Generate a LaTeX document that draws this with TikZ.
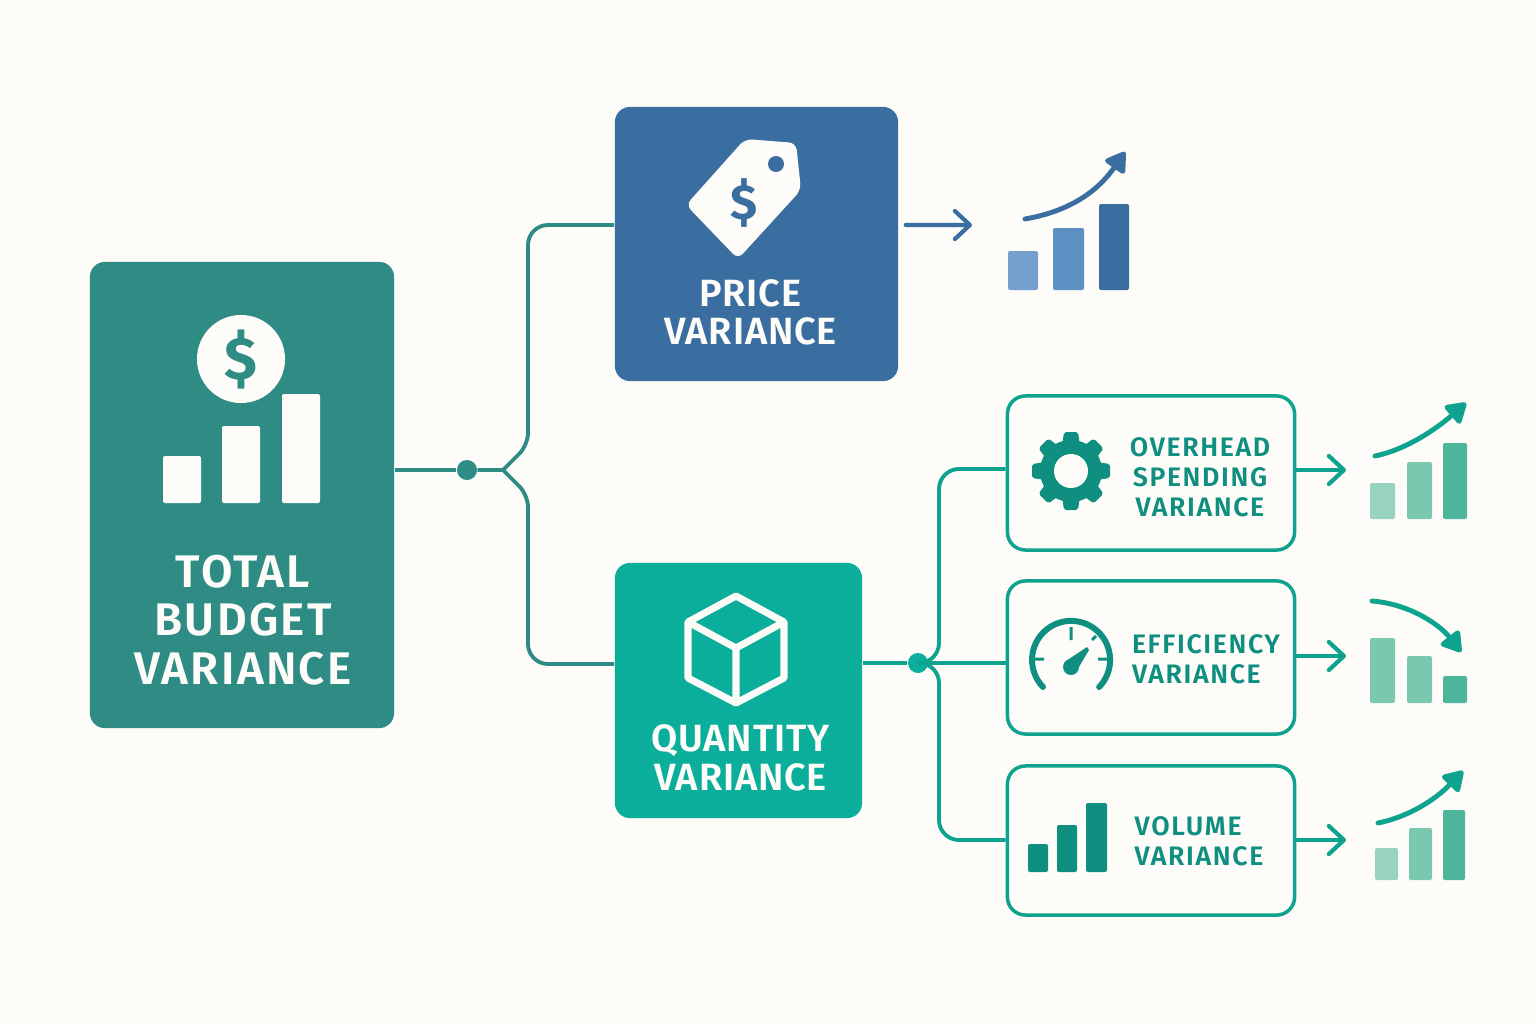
\documentclass[tikz,border=0pt]{standalone}
\usepackage{fontspec}
\setmainfont{Fira Sans}
\newfontfamily\bigface{Fira Sans SemiBold}[LetterSpace=5]
\newfontfamily\midface{Fira Sans SemiBold}[LetterSpace=2]
\newfontfamily\subface{Fira Sans SemiBold}[LetterSpace=6]
\usepackage{tikz}
\usetikzlibrary{arrows.meta, positioning}
\definecolor{pagebg}{HTML}{FDFCF8}
\definecolor{totalteal}{HTML}{2F8C85}
\definecolor{priceblue}{HTML}{3A6EA0}
\definecolor{qtygreen}{HTML}{0BAE9B}
\definecolor{linkgreen}{HTML}{0EA38E}
\definecolor{icongreen}{HTML}{0E8F7F}
\definecolor{barblueA}{HTML}{74A0CF}
\definecolor{barblueB}{HTML}{5C8FC2}
\definecolor{bargreenA}{HTML}{98D3C1}
\definecolor{bargreenB}{HTML}{7BC8B1}
\definecolor{bargreenC}{HTML}{4DB59A}

\begin{document}
\begin{tikzpicture}[
  x=0.01cm, y=-0.01cm,
  mainbox/.style={rectangle, rounded corners=0.15cm, inner sep=0pt, text=pagebg},
  subbox/.style={rectangle, rounded corners=0.18cm, draw=linkgreen, line width=1pt,
                 fill=pagebg, inner sep=0pt, minimum width=2.87cm},
  biglabel/.style={align=center, text=pagebg, font=\bigface\fontsize{13}{13.7}\selectfont},
  midlabel/.style={align=center, text=pagebg, font=\midface\fontsize{10.8}{11}\selectfont},
  sublabel/.style={text=icongreen, font=\subface\fontsize{7.6}{8.5}\selectfont},
  dollar/.style={inner sep=0pt, font=\bfseries},
  hub/.style={circle, inner sep=0pt, minimum size=0.2cm},
  link/.style={line width=1.1pt, line join=round},
  outarr/.style={line width=1.2pt, line cap=round, -{Straight Barb[length=0.15cm, width=0.28cm, round]}},
  trend/.style={line width=1.4pt, line cap=round, -{Triangle[length=0.22cm, width=0.26cm, round]}},
  bar/.style={rounded corners=0.02cm}
]
\useasboundingbox (0,0) rectangle (1536,1024);
\fill[pagebg] (0,0) rectangle (1536,1024);

% ---- Main boxes ----
\node[mainbox, fill=totalteal, minimum width=3.04cm, minimum height=4.66cm] (total) at (242,495) {};
\node[mainbox, fill=priceblue, minimum width=2.83cm, minimum height=2.74cm] (price) at (756.5,244) {};
\node[mainbox, fill=qtygreen, minimum width=2.47cm, minimum height=2.55cm] (qty) at (738.5,690.5) {};

% ---- Sub boxes ----
\node[subbox, minimum height=1.54cm] (overhead) at (1151,473) {};
\node[subbox, minimum height=1.53cm] (efficiency) at (1151,657.5) {};
\node[subbox, minimum height=1.49cm] (volume) at (1151,840.5) {};

% ---- Hubs ----
\node[hub, fill=totalteal] (hubtotal) at (467,470) {};
\node[hub, fill=qtygreen] (hubqty) at (918,663) {};

% ---- Tree from total ----
\draw[link, totalteal] (total.east |- hubtotal) -- (hubtotal);
\draw[link, totalteal] (hubtotal) -- (503,470) [rounded corners=0.12cm] -- (528,445) [rounded corners=0.2cm] -- (528,225) -- ([yshift=0.19cm]price.west);
\draw[link, totalteal] (hubtotal) -- (503,470) [rounded corners=0.12cm] -- (528,495) [rounded corners=0.2cm] -- (528,664) -- ([yshift=0.265cm]qty.west);

% ---- Tree from quantity ----
\draw[link, linkgreen] (qty.east |- hubqty) -- (hubqty);
\draw[link, linkgreen] (hubqty) -- (efficiency.west |- hubqty);
\draw[link, linkgreen, rounded corners=0.2cm] (hubqty) -- (939,663) -- (939,469) -- ([yshift=0.04cm]overhead.west);
\draw[link, linkgreen, rounded corners=0.2cm] (hubqty) -- (939,663) -- (939,840) -- (volume.west |- 0,840);

% ---- Outgoing arrows ----
\coordinate (priceout) at (972,225);
\coordinate (overheadout) at (1346,470);
\coordinate (efficiencyout) at (1346,656);
\coordinate (volumeout) at (1346,840);
\draw[outarr, priceblue] ([xshift=0.07cm, yshift=0.19cm]price.east) -- (priceout);
\draw[outarr, linkgreen] (overhead.east |- overheadout) -- (overheadout);
\draw[outarr, linkgreen] (efficiency.east |- efficiencyout) -- (efficiencyout);
\draw[outarr, linkgreen] (volume.east |- volumeout) -- (volumeout);

% ---- Total icon and label ----
\fill[pagebg] (241,359) circle[radius=0.44cm];
\node[dollar, text=totalteal, font=\fontsize{17}{17}\selectfont\bfseries] (totaldollar) at (241,359) {\$};
\fill[bar, pagebg] (163,456) rectangle (201,503);
\fill[bar, pagebg] (222,426) rectangle (260,503);
\fill[bar, pagebg] (282,394) rectangle (320,503);
\node[biglabel] (totallabel) at (243,620) {TOTAL\\BUDGET\\VARIANCE};

% ---- Price icon and label ----
\fill[pagebg, rounded corners=0.07cm] (745,139) -- (796,143) -- (801,190) -- (738,259) -- (686,205) -- cycle;
\fill[priceblue] (776,164) circle[radius=0.08cm];
\node[dollar, text=priceblue, font=\fontsize{14}{14}\selectfont\bfseries] (pricedollar) at (744,203) {\$};
\node[midlabel] (pricelabel) at (750.5,312.5) {PRICE\\VARIANCE};

% ---- Price trend ----
\fill[bar, barblueA] (1008,251) rectangle (1038,290);
\fill[bar, barblueB] (1053,228) rectangle (1084,290);
\fill[bar, priceblue] (1099,204) rectangle (1129,290);
\draw[trend, priceblue] (1025,219) .. controls (1065,212) and (1095,195) .. (1125,152);

% ---- Quantity icon and label ----
\draw[pagebg, line width=2pt, line join=round]
  (736,596) -- (784,622) -- (784,678) -- (736,703) -- (688,678) -- (688,622) -- cycle
  (688,622) -- (736,648) -- (784,622) (736,648) -- (736,703);
\node[midlabel] (qtylabel) at (740.5,758) {QUANTITY\\VARIANCE};

% ---- Overhead row ----
\fill[icongreen] (1071,471) circle[radius=0.31cm];
\foreach \a in {0,45,...,315}
  \fill[icongreen, rounded corners=0.02cm, shift={(1071,471)}, rotate=\a] (-7,-39) -- (7,-39) -- (9,-25) -- (-9,-25) -- cycle;
\fill[pagebg] (1071,471) circle[radius=0.17cm];
\node[sublabel, align=center] (overheadlabel) at (1200,477) {OVERHEAD\\SPENDING\\VARIANCE};
\fill[bar, bargreenA] (1370,483) rectangle (1395,519);
\fill[bar, bargreenB] (1407,462) rectangle (1432,519);
\fill[bar, bargreenC] (1443,443) rectangle (1467,519);
\draw[trend, linkgreen] (1375,456) .. controls (1405,450) and (1435,430) .. (1466,403);

% ---- Efficiency row ----
\draw[icongreen, line width=1.7pt, line cap=round] (1043,687) arc[start angle=224, end angle=-44, radius=0.39cm];
\draw[icongreen, line width=0.85pt]
  (1071,627) -- (1071,640) (1035,659) -- (1044,659) (1098,659) -- (1107,659) (1092,640) -- (1096,636);
\fill[icongreen] (1071,667) circle[radius=0.08cm];
\fill[icongreen, line join=round] (1066,661) -- (1087,647) -- (1089,650) -- (1076,672) -- cycle;
\node[sublabel, align=left] (efficiencylabel) at (1206,659.5) {EFFICIENCY\\VARIANCE};
\fill[bar, bargreenB] (1370,638) rectangle (1395,703);
\fill[bar, bargreenB] (1407,656) rectangle (1432,703);
\fill[bar, bargreenC] (1443,676) rectangle (1467,703);
\draw[trend, linkgreen] (1372,601) .. controls (1410,604) and (1440,625) .. (1461,652);

% ---- Volume row ----
\fill[bar, icongreen] (1028,844) rectangle (1048,872);
\fill[bar, icongreen] (1057,825) rectangle (1077,872);
\fill[bar, icongreen] (1086,803) rectangle (1107,872);
\node[sublabel, align=left] (volumelabel) at (1199,841.5) {VOLUME\\VARIANCE};
\fill[bar, bargreenA] (1375,848) rectangle (1398,880);
\fill[bar, bargreenB] (1409,828) rectangle (1432,880);
\fill[bar, bargreenC] (1443,810) rectangle (1465,880);
\draw[trend, linkgreen] (1378,823) .. controls (1408,817) and (1435,800) .. (1463,771);

\end{tikzpicture}
\end{document}
